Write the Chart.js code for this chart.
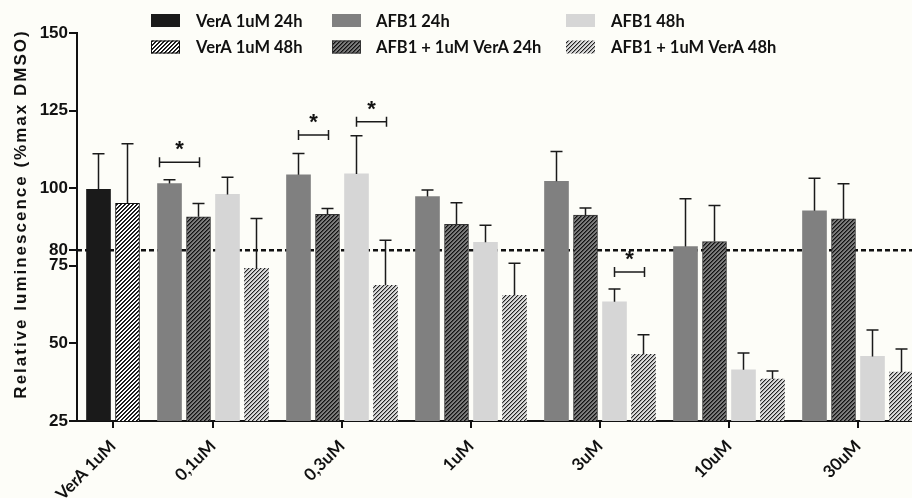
<!DOCTYPE html>
<html>
<head>
<meta charset="utf-8">
<script src="https://cdn.jsdelivr.net/npm/chart.js@4/dist/chart.umd.min.js"></script>
<style>
  html, body { margin: 0; padding: 0; background: #fdfdf8; }
  #wrap { position: relative; width: 912px; height: 498px; }
</style>
</head>
<body>
<div id="wrap"><canvas id="c"></canvas></div>
<script>
// ---------- data ----------
const categories = ['VerA 1uM', '0,1uM', '0,3uM', '1uM', '3uM', '10uM', '30uM'];
const seriesNames = ['VerA 1uM 24h', 'VerA 1uM 48h', 'AFB1 24h', 'AFB1 + 1uM VerA 24h', 'AFB1 48h', 'AFB1 + 1uM VerA 48h'];

const veraMean24   = [99.6, null, null, null, null, null, null];
const veraErr24    = [11.5, null, null, null, null, null, null];
const veraMean48   = [95.1, null, null, null, null, null, null];
const veraErr48    = [19.2, null, null, null, null, null, null];
const afbMean24    = [null, 101.5, 104.3, 97.3, 102.2, 81.2, 92.7];
const afbErr24     = [null, 1.2, 6.9, 2.1, 9.6, 15.4, 10.5];
const comboMean24  = [null, 90.8, 91.6, 88.4, 91.3, 82.8, 90.1];
const comboErr24   = [null, 4.3, 1.9, 6.9, 2.3, 11.6, 11.3];
const afbMean48    = [null, 98.0, 104.6, 82.6, 63.4, 41.5, 45.8];
const afbErr48     = [null, 5.5, 12.3, 5.5, 4.1, 5.4, 8.5];
const comboMean48  = [null, 74.2, 68.7, 65.5, 46.5, 38.5, 40.8];
const comboErr48   = [null, 16.0, 14.5, 10.3, 6.3, 2.6, 7.4];

const yTickValues = [25, 50, 75, 80, 100, 125, 150];
const thresholdValue = 80;

// significance brackets: category index, first/second series index, height (value), label
const sigCategory = [1, 2, 2, 4];
const sigFrom     = [2, 2, 4, 4];
const sigTo       = [3, 3, 5, 5];
const sigLevel    = [108.4, 117.1, 121.4, 73.0];
const sigLabel    = ['*', '*', '*', '*'];

// ---------- layout / style ----------
const SLOT_PX = 29, BAR_PX = 24, GROUP_GAP_SLOTS = 13 / 29;
const X_MIN = -36 / 29, X_MAX = X_MIN + 835 / 29;
const bracketExtraLeft = [10, 0, 0, 0];

const means = [veraMean24, veraMean48, afbMean24, comboMean24, afbMean48, comboMean48];
const errs  = [veraErr24, veraErr48, afbErr24, comboErr24, afbErr48, comboErr48];

// group centres in "bar slot" units: groups are as wide as their number of bars
const barsPerGroup = categories.map((_, i) => means.filter(s => s[i] != null).length);
const groupX = [];
categories.forEach((_, i) => {
  groupX.push(i === 0 ? 0 : groupX[i - 1] + (barsPerGroup[i - 1] + barsPerGroup[i]) / 2 + GROUP_GAP_SLOTS);
});

function hatch(bg, fg, fg2) {
  const c = document.createElement('canvas');
  c.width = 4; c.height = 4;
  const x = c.getContext('2d');
  x.fillStyle = bg; x.fillRect(0, 0, 4, 4);
  for (let i = 0; i < 4; i++) for (let j = 0; j < 4; j++) {
    const k = (i + j) % 4;
    if (k === 0) { x.fillStyle = fg; x.fillRect(i, j, 1, 1); }
    else if (k === 1 && fg2) { x.fillStyle = fg2; x.fillRect(i, j, 1, 1); }
  }
  return x.createPattern(c, 'repeat');
}

const fills = [
  '#1a1a1a',
  hatch('#ffffff', '#111111', '#2a2a2a'),
  '#808080',
  hatch('#7c7c7c', '#111111', '#444444'),
  '#d6d6d6',
  hatch('#dcdcdc', '#222222', '#9a9a9a')
];
const borders = ['#1a1a1a', '#111111', '#808080', '#333333', '#d6d6d6', '#bdbdbd'];
const borderW = [0, 1, 0, 1, 0, 0];

const datasets = seriesNames.map((name, s) => ({
  label: name,
  data: groupX.map((x, i) => ({ x: x, y: means[s][i] })),
  backgroundColor: fills[s],
  borderColor: borders[s],
  borderWidth: borderW[s],
  borderSkipped: 'start',
  barThickness: SLOT_PX,
  maxBarThickness: BAR_PX,
  skipNull: true
}));

// ---------- plugins ----------
const thresholdLine = {
  id: 'thresholdLine',
  beforeDatasetsDraw(chart) {
    const { ctx, chartArea, scales } = chart;
    const y = scales.y.getPixelForValue(thresholdValue);
    ctx.save();
    ctx.strokeStyle = '#111';
    ctx.lineWidth = 2.5;
    ctx.setLineDash([5, 3]);
    ctx.beginPath();
    ctx.moveTo(chartArea.left, y);
    ctx.lineTo(chartArea.right, y);
    ctx.stroke();
    ctx.restore();
  }
};

const errorBars = {
  id: 'errorBars',
  afterDatasetsDraw(chart) {
    const { ctx, scales } = chart;
    ctx.save();
    ctx.strokeStyle = '#1a1a1a';
    ctx.lineWidth = 1.5;
    means.forEach((m, s) => {
      const meta = chart.getDatasetMeta(s);
      m.forEach((v, i) => {
        const e = errs[s][i];
        if (v == null || e == null) return;
        const bar = meta.data[i];
        const top = scales.y.getPixelForValue(v + e);
        const topBar = scales.y.getPixelForValue(v);
        ctx.beginPath();
        ctx.moveTo(bar.x, topBar);
        ctx.lineTo(bar.x, top);
        ctx.moveTo(bar.x - 6, top);
        ctx.lineTo(bar.x + 6, top);
        ctx.stroke();
      });
    });
    // significance brackets
    ctx.lineWidth = 1.5;
    ctx.fillStyle = '#111';
    ctx.font = 'bold 22px "Liberation Sans", Arial, sans-serif';
    ctx.textAlign = 'center';
    ctx.textBaseline = 'middle';
    sigCategory.forEach((c, k) => {
      const x1 = chart.getDatasetMeta(sigFrom[k]).data[c].x - bracketExtraLeft[k];
      const x2 = chart.getDatasetMeta(sigTo[k]).data[c].x + 1;
      const y = scales.y.getPixelForValue(sigLevel[k]);
      ctx.beginPath();
      ctx.moveTo(x1, y); ctx.lineTo(x2, y);
      ctx.moveTo(x1, y - 5); ctx.lineTo(x1, y + 5);
      ctx.moveTo(x2, y - 5); ctx.lineTo(x2, y + 5);
      ctx.stroke();
      ctx.fillText(sigLabel[k], (x1 + x2) / 2, y - 12);
    });
    ctx.restore();
  }
};

const gridLegend = {
  id: 'gridLegend',
  afterDraw(chart) {
    const ctx = chart.ctx;
    const swatchX = [151, 332, 566];
    const textX = [196, 376, 611];
    const rowY = [20.5, 47];
    ctx.save();
    ctx.font = 'bold 16.5px Lato, "Open Sans", sans-serif';
    ctx.textBaseline = 'middle';
    ctx.textAlign = 'left';
    chart.data.datasets.forEach((ds, i) => {
      const col = Math.floor(i / 2), row = i % 2;
      const sx = swatchX[col], sy = rowY[row] - 6.5;
      ctx.fillStyle = ds.backgroundColor;
      ctx.fillRect(sx, sy, 29, 13);
      if (ds.borderWidth) {
        ctx.strokeStyle = ds.borderColor;
        ctx.lineWidth = 1;
        ctx.strokeRect(sx + 0.5, sy + 0.5, 28, 12);
      }
      ctx.fillStyle = '#111';
      ctx.fillText(ds.label, textX[col], rowY[row] + 1);
    });
    ctx.restore();
  }
};

const yTitle = {
  id: 'yTitle',
  afterDraw(chart) {
    const ctx = chart.ctx;
    ctx.save();
    ctx.translate(21, 214);
    ctx.rotate(-Math.PI / 2);
    ctx.font = 'bold 17px "Liberation Sans", Arial, sans-serif';
    ctx.letterSpacing = '2px';
    ctx.fillStyle = '#111';
    ctx.textAlign = 'center';
    ctx.textBaseline = 'middle';
    ctx.fillText('Relative luminescence (%max DMSO)', 0, 0);
    ctx.restore();
  }
};

new Chart(document.getElementById('c'), {
  type: 'bar',
  data: { datasets },
  options: {
    responsive: true,
    maintainAspectRatio: false,
    animation: false,
    layout: { padding: { top: 33, right: 0, bottom: 0, left: 0 } },
    plugins: { legend: { display: false }, tooltip: { enabled: false } },
    scales: {
      x: {
        type: 'linear',
        min: X_MIN,
        max: X_MAX,
        offset: false,
        grid: { display: true, offset: false, drawOnChartArea: false, drawTicks: true, tickLength: 7, color: '#111', lineWidth: 2 },
        border: { display: true, color: '#111', width: 2 },
        afterBuildTicks(scale) { scale.ticks = groupX.map(v => ({ value: v })); },
        afterFit(scale) { scale.height = 77; },
        ticks: {
          autoSkip: false,
          minRotation: 45,
          maxRotation: 45,
          padding: 8,
          color: '#111',
          font: { family: 'Lato, "Open Sans", sans-serif', weight: 'bold', size: 17 },
          callback: (v, i) => categories[i]
        }
      },
      y: {
        min: 25,
        max: 150,
        grid: { display: true, drawOnChartArea: false, drawTicks: true, tickLength: 8, color: '#111', lineWidth: 2 },
        border: { display: true, color: '#111', width: 2 },
        afterBuildTicks(scale) { scale.ticks = yTickValues.map(v => ({ value: v })); },
        afterFit(scale) { scale.width = 77; },
        ticks: {
          autoSkip: false,
          padding: 1,
          color: '#111',
          font: { family: '"Liberation Sans", Arial, sans-serif', weight: 'bold', size: 17 }
        }
      }
    }
  },
  plugins: [thresholdLine, errorBars, gridLegend, yTitle]
});
</script>
</body>
</html>
